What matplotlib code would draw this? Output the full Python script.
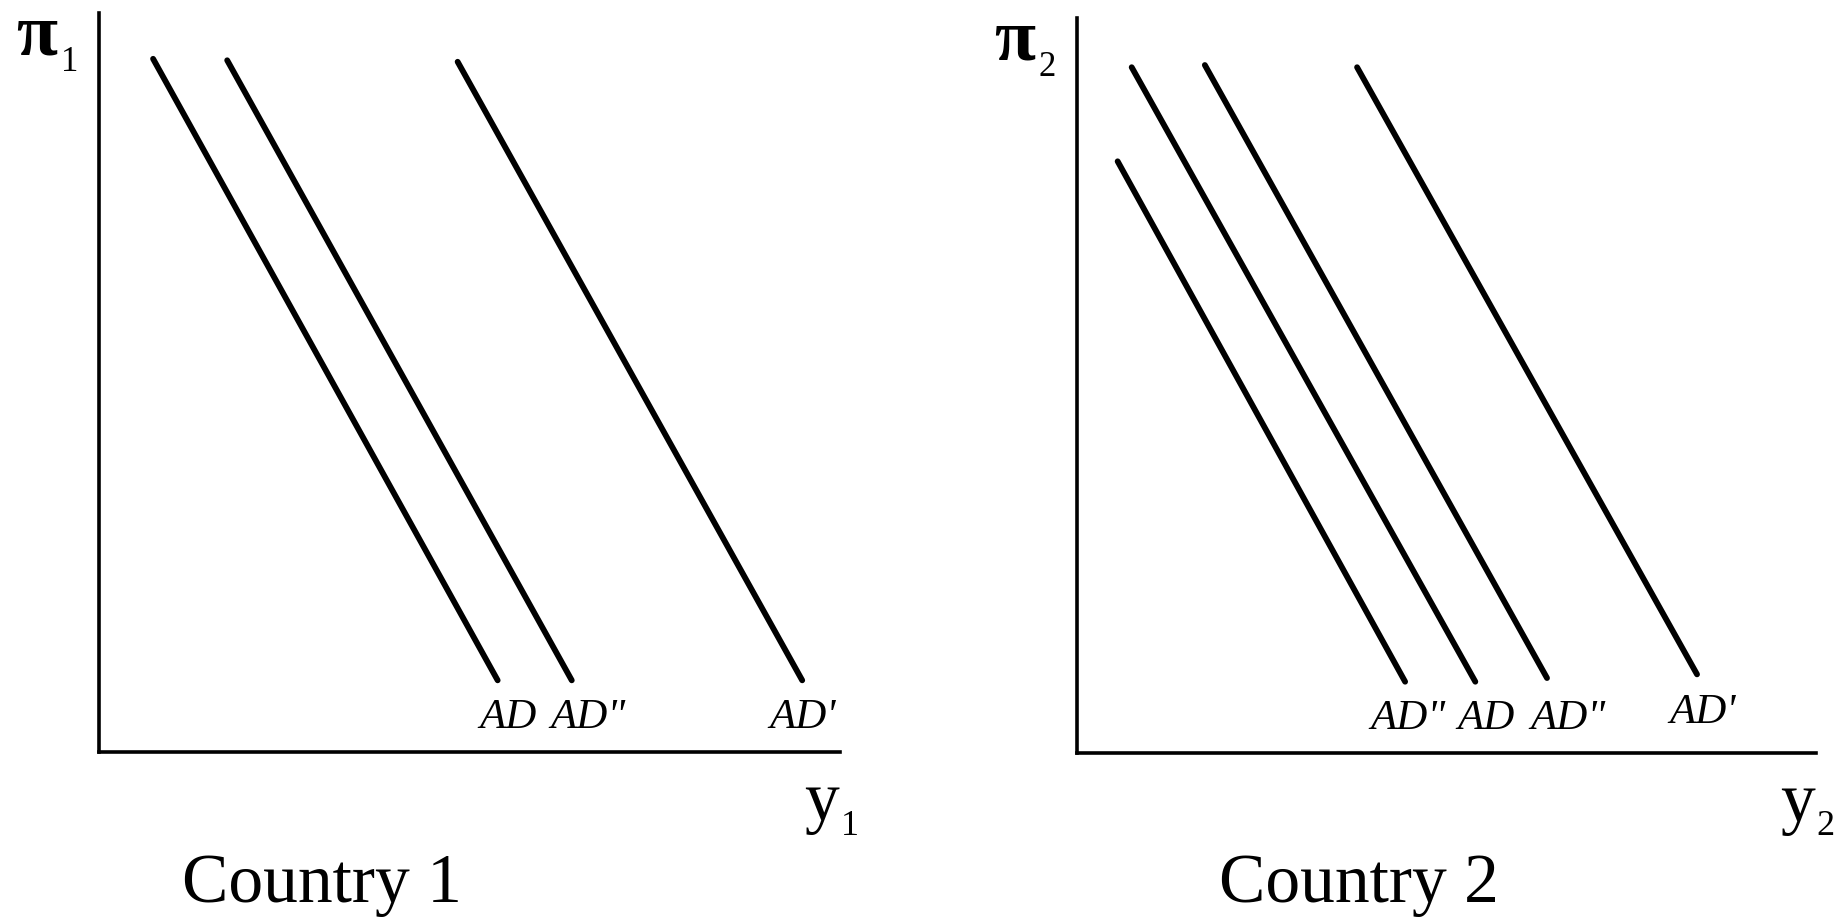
import numpy as np
import matplotlib.pyplot as plt

plt.rcParams['font.family'] = ['Liberation Serif', 'DejaVu Serif']

# AD curves for each country: top and bottom endpoints, label and label position
country1_names = ['AD', 'AD"', "AD'"]
country1_top = [(0.73, 9.38), (1.73, 9.36), (4.84, 9.34)]
country1_bottom = [(5.38, 0.97), (6.38, 0.97), (9.49, 0.97)]
country1_label_x = [5.52, 6.60, 9.50]
country1_label_y = [0.47, 0.47, 0.47]

country2_names = ['AD"', 'AD', 'AD"', "AD'"]
country2_top = [(0.55, 8.05), (0.74, 9.33), (1.73, 9.36), (3.79, 9.33)]
country2_bottom = [(4.44, 0.97), (5.39, 0.97), (6.36, 1.02), (8.39, 1.07)]
country2_label_x = [4.48, 5.53, 6.64, 8.46]
country2_label_y = [0.47, 0.47, 0.47, 0.55]

W, H = 1843, 919
fig = plt.figure(figsize=(W / 100, H / 100), dpi=100)
ax1 = fig.add_axes([99 / W, (H - 752) / H, 741 / W, 739 / H])
ax2 = fig.add_axes([1077 / W, (H - 753) / H, 739 / W, 735 / H])


def draw_panel(ax, names, tops, bottoms, lx, ly, idx, title, title_x):
    ax.set_xlim(0, 10)
    ax.set_ylim(0, 10)
    for s in ['top', 'right']:
        ax.spines[s].set_visible(False)
    for s in ['left', 'bottom']:
        ax.spines[s].set_linewidth(2.6)
    ax.set_xticks([])
    ax.set_yticks([])
    for (x0, y0), (x1, y1) in zip(tops, bottoms):
        ax.plot([x0, x1], [y0, y1], color='black', lw=4.2, solid_capstyle='round')
    for name, x, y in zip(names, lx, ly):
        ax.text(x, y, name, ha='center', va='center', fontsize=31,
                style='italic', clip_on=False)
    # axis symbols
    ax.text(-0.84, 9.68, 'π', ha='center', va='center', fontsize=54,
            weight='bold', clip_on=False)
    ax.text(-0.40, 9.33, idx, ha='center', va='center', fontsize=25, clip_on=False)
    ax.text(9.75, -0.92, 'y', ha='center', va='baseline', fontsize=50, clip_on=False)
    ax.text(10.13, -1.12, idx, ha='center', va='baseline', fontsize=26, clip_on=False)
    ax.text(title_x, -1.80, title, ha='center', va='center', fontsize=50, clip_on=False)


draw_panel(ax1, country1_names, country1_top, country1_bottom,
           country1_label_x, country1_label_y, '1', 'Country 1', 3.01)
draw_panel(ax2, country2_names, country2_top, country2_bottom,
           country2_label_x, country2_label_y, '2', 'Country 2', 3.82)

fig.savefig('out.png', dpi=100, facecolor='white')
